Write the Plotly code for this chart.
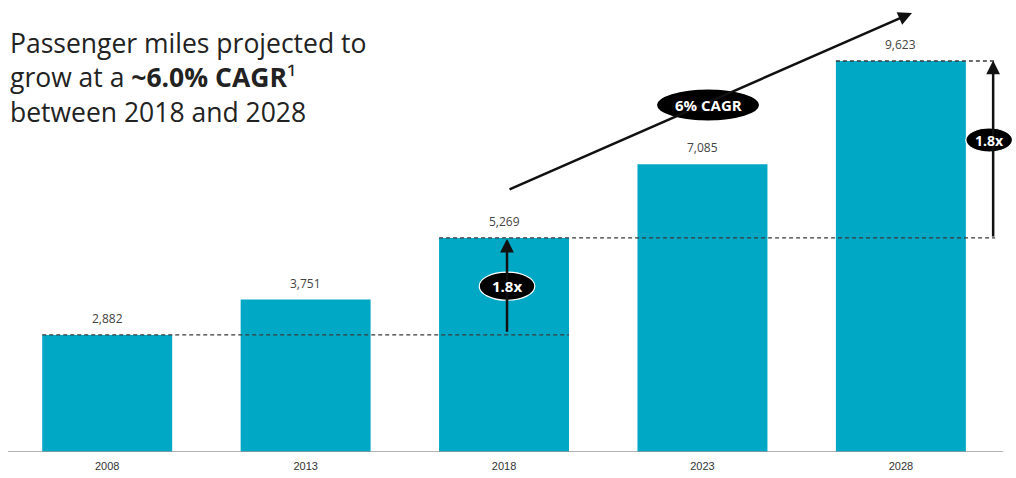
import plotly.graph_objects as go

# Passenger miles (millions) by year
years = ["2008", "2013", "2018", "2023", "2028"]
passenger_miles = [2882, 3751, 5269, 7085, 9623]
value_labels = ["2,882", "3,751", "5,269", "7,085", "9,623"]

BAR_COLOR = "#00A8C6"
INK = "#111111"
BAR_W = 0.655
PLOT_H = 452  # px between top of page and baseline

x_pos = list(range(len(years)))
px_per_unit_y = 0.04063
y_top = PLOT_H / px_per_unit_y

fig = go.Figure()
fig.add_trace(go.Bar(
    x=x_pos, y=passenger_miles, width=BAR_W,
    marker=dict(color=BAR_COLOR, line=dict(width=0)),
    hoverinfo="skip",
))

shapes = []
annotations = []

# value labels above each bar
for xi, v, lab in zip(x_pos, passenger_miles, value_labels):
    annotations.append(dict(x=xi, y=v, xref="x", yref="y", text=lab, showarrow=False,
                            yanchor="bottom", yshift=6,
                            font=dict(family="Open Sans", size=12, color="#444444")))

# baseline
shapes.append(dict(type="line", xref="x", yref="y", x0=-0.5, x1=4.515, y0=0, y1=0,
                   line=dict(color="#9a9a9a", width=1.5)))

# dashed reference levels
y08, y18, y28 = passenger_miles[0], passenger_miles[2], passenger_miles[4]
dash = dict(color="#3a3a3a", width=1.3, dash="4px,3px")
shapes.append(dict(type="line", xref="x", yref="y", x0=0 - BAR_W / 2, x1=2 + BAR_W / 2,
                   y0=y08, y1=y08, line=dash))
shapes.append(dict(type="line", xref="x", yref="y", x0=2 - BAR_W / 2, x1=4.475,
                   y0=y18, y1=y18, line=dash))
shapes.append(dict(type="line", xref="x", yref="y", x0=4 - BAR_W / 2, x1=4.475,
                   y0=y28, y1=y28, line=dash))

# growth arrows
def arrow(x0, y0, x1, y1):
    annotations.append(dict(x=x1, y=y1, ax=x0, ay=y0, xref="x", yref="y",
                            axref="x", ayref="y", text="", showarrow=True,
                            arrowhead=2, arrowsize=1.1, arrowwidth=2.5,
                            arrowcolor=INK, standoff=0))

arrow(2.015, y08 + 40, 2.015, y18 - 20)
arrow(4.465, y18, 4.465, y28 + 10)
arrow(2.02, 6448, 4.056, 10805)

# oval badges
def badge(cx, cy, w, h, label, size):
    shapes.append(dict(type="circle", xref="x", yref="y",
                       x0=cx - w / 2, x1=cx + w / 2, y0=cy - h / 2, y1=cy + h / 2,
                       fillcolor="black", line=dict(color="white", width=1.2),
                       layer="above"))
    annotations.append(dict(x=cx, y=cy, xref="x", yref="y", text=f"<b>{label}</b>",
                            showarrow=False,
                            font=dict(family="Open Sans", size=size, color="white")))

badge(2.015, 4080, 0.28, 690, "1.8x", 15)
badge(4.445, 7679, 0.235, 590, "1.8x", 14)
badge(3.028, 8540, 0.52, 790, "6% CAGR", 15)

# headline
annotations.append(dict(
    x=0.0, y=1 - 77 / PLOT_H, xref="paper", yref="paper", xanchor="left",
    yanchor="middle", align="left", showarrow=False,
    text=("Passenger miles projected to<br>"
          "grow at a <b>~6.0% CAGR</b>¹<br>"
          "between 2018 and 2028"),
    font=dict(family="Open Sans", size=26.5, color="#222222"),
))

fig.update_layout(
    width=1016, height=478,
    margin=dict(l=8, r=4, t=0, b=478 - PLOT_H),
    paper_bgcolor="white", plot_bgcolor="white",
    showlegend=False,
    shapes=shapes, annotations=annotations,
    xaxis=dict(range=[-0.5, 4.56], tickvals=x_pos, ticktext=years,
               showgrid=False, zeroline=False, showline=False, ticks="",
               ticklabelstandoff=6,
               tickfont=dict(family="Liberation Sans", size=11, color="#333333")),
    yaxis=dict(range=[0, y_top], visible=False, showgrid=False, zeroline=False),
)

fig.write_html("out.html")
